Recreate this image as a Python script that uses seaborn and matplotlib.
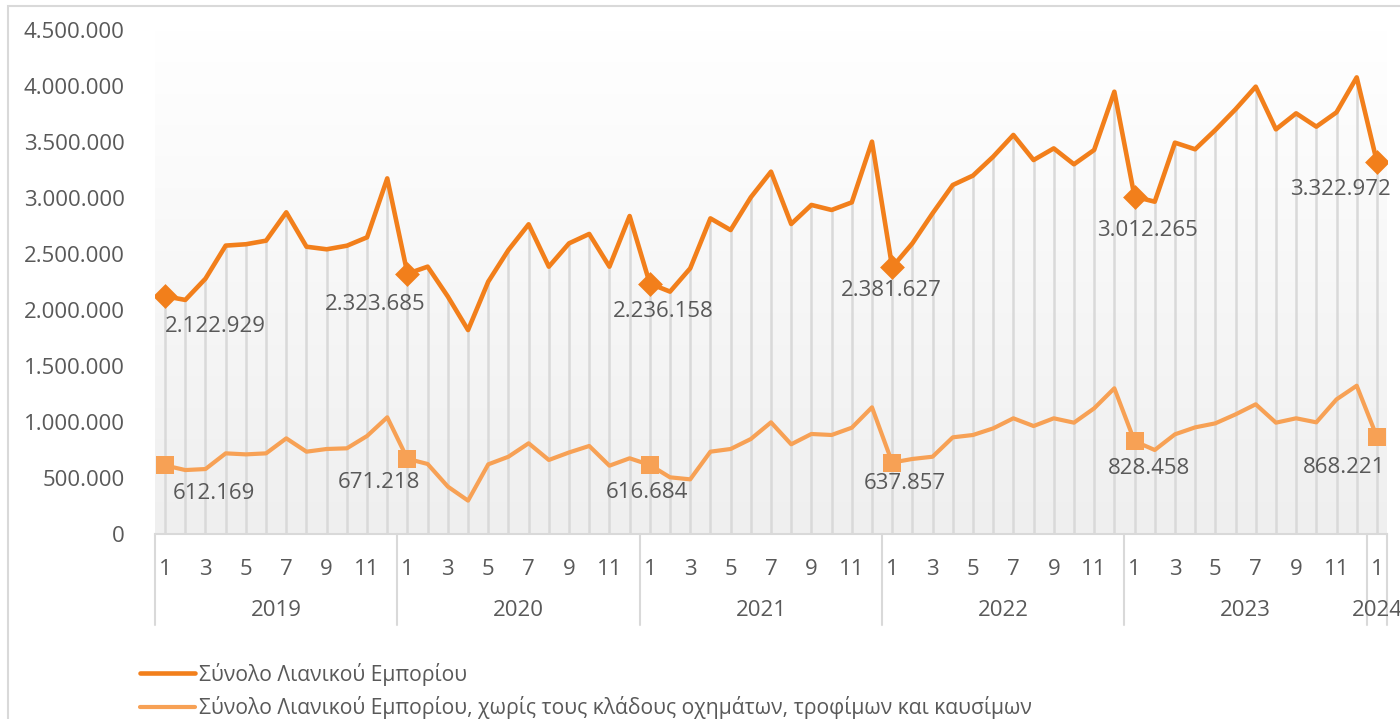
# Λιανικό εμπόριο - μηνιαίος κύκλος εργασιών 2019-2024
import numpy as np
import pandas as pd
import matplotlib
matplotlib.use("Agg")
import matplotlib.pyplot as plt
import seaborn as sns
from matplotlib.colors import LinearSegmentedColormap
from matplotlib.lines import Line2D
from matplotlib.patches import Rectangle
import matplotlib.transforms as mtransforms

# --------------------------------------------
# Data
# --------------------------------------------

years = [2019, 2020, 2021, 2022, 2023, 2024]

total_retail = [
    2122929, 2090000, 2280000, 2575000, 2587000, 2619000, 2872000, 2565000, 2542000, 2574000, 2649000, 3175000,
    2323685, 2387000, 2120000, 1821000, 2253000, 2536000, 2765000, 2387000, 2595000, 2679000, 2387000, 2839000,
    2236158, 2164000, 2372000, 2818000, 2714000, 3006000, 3235000, 2768000, 2938000, 2893000, 2961000, 3503000,
    2381627, 2595000, 2863000, 3116000, 3200000, 3369000, 3563000, 3339000, 3443000, 3301000, 3429000, 3949000,
    3012265, 2967000, 3494000, 3435000, 3607000, 3792000, 3994000, 3613000, 3756000, 3637000, 3765000, 4077000,
    3322972,
]

retail_excl = [
    612169, 571000, 580000, 720000, 711000, 720000, 854000, 735000, 759000, 765000, 875000, 1042000,
    671218, 625000, 423000, 298000, 622000, 690000, 810000, 661000, 728000, 786000, 610000, 676000,
    616684, 506000, 488000, 735000, 759000, 848000, 997000, 801000, 893000, 884000, 949000, 1131000,
    637857, 670000, 690000, 863000, 884000, 943000, 1033000, 964000, 1033000, 994000, 1122000, 1301000,
    828458, 750000, 890000, 952000, 988000, 1068000, 1158000, 994000, 1033000, 997000, 1202000, 1324000,
    868221,
]

series_names = [
    "Σύνολο Λιανικού Εμπορίου",
    "Σύνολο Λιανικού Εμπορίου, χωρίς τους κλάδους οχημάτων, τροφίμων και καυσίμων",
]

# --------------------------------------------
# Build table
# --------------------------------------------

months = [m for y in years[:-1] for m in range(1, 13)] + [1]
year_col = [y for y in years[:-1] for _ in range(12)] + [2024]
df = pd.DataFrame({
    "idx": np.arange(len(total_retail)),
    "year": year_col,
    "month": months,
    "total": total_retail,
    "excl": retail_excl,
})
jan = df[df["month"] == 1]

# --------------------------------------------
# Style
# --------------------------------------------

sns.set_style("white")
plt.rcParams["font.family"] = ["Open Sans", "DejaVu Sans"]

C_TOTAL = "#F27F1B"
C_EXCL = "#F7A155"
TXT = "#595959"
GRID = "#D9D9D9"
FS = 16

fig = plt.figure(figsize=(14, 7.19), dpi=100)
ax = fig.add_axes([155 / 1400, 1 - 534 / 719, 1232 / 1400, 504 / 719])

# outer chart frame
fig.patches.append(Rectangle((8 / 1400, -0.05), 1.2, 1 - 6 / 719 + 0.05,
                             transform=fig.transFigure, fill=False,
                             edgecolor="#D9D9D9", linewidth=1.5))

# plot area gradient
grad_cmap = LinearSegmentedColormap.from_list("g", ["#EFEFEF", "#FFFFFF"])
ax.imshow(np.linspace(0, 1, 256).reshape(-1, 1), cmap=grad_cmap, origin="lower",
          extent=[-0.5, 60.5, 0, 4.5e6], aspect="auto", zorder=0)

# drop lines
ax.vlines(df["idx"], 0, df["total"], color=GRID, linewidth=1.8, zorder=1)

# lines
sns.lineplot(data=df, x="idx", y="total", color=C_TOTAL, linewidth=3.3, ax=ax, zorder=3)
sns.lineplot(data=df, x="idx", y="excl", color=C_EXCL, linewidth=3.0, ax=ax, zorder=3)

# January markers
ax.scatter(jan["idx"], jan["total"], marker="D", s=160, color=C_TOTAL, zorder=4, linewidths=0)
ax.scatter(jan["idx"], jan["excl"], marker="s", s=180, color=C_EXCL, zorder=4, linewidths=0)

# data labels (offsets in pixels)
off_total = [(50, -30), (-32, -31), (13, -28), (-1, -23), (13, -34), (-36, -28)]
off_excl = [(49, -28), (-29, -24), (-3, -28), (13, -21), (14, -27), (-33, -31)]


def fmt(v):
    return f"{v:,.0f}".replace(",", ".")


for (i, r), o1, o2 in zip(jan.iterrows(), off_total, off_excl):
    ax.annotate(fmt(r["total"]), (r["idx"], r["total"]), xytext=o1, textcoords="offset pixels",
                ha="center", va="center", fontsize=FS, color=TXT, zorder=5)
    ax.annotate(fmt(r["excl"]), (r["idx"], r["excl"]), xytext=o2, textcoords="offset pixels",
                ha="center", va="center", fontsize=FS, color=TXT, zorder=5)

# --------------------------------------------
# Axes
# --------------------------------------------

ax.set_xlim(-0.5, 60.5)
ax.set_ylim(0, 4.5e6)
ax.set_yticks(np.arange(0, 4.5e6 + 1, 5e5))
ax.set_yticklabels([fmt(v) for v in np.arange(0, 4.5e6 + 1, 5e5)])
ax.tick_params(axis="y", length=0, pad=22, labelsize=FS, labelcolor=TXT)

tick_idx = df.loc[df["month"] % 2 == 1, "idx"]
ax.set_xticks(tick_idx)
ax.set_xticklabels(df.loc[tick_idx, "month"])
ax.tick_params(axis="x", length=0, pad=18, labelsize=FS, labelcolor=TXT)
ax.set_xlabel("")
ax.set_ylabel("")

for s in ["top", "right", "left"]:
    ax.spines[s].set_visible(False)
ax.spines["bottom"].set_color(GRID)
ax.spines["bottom"].set_linewidth(1.5)

# year groups under the axis
trans = mtransforms.blended_transform_factory(ax.transData, ax.transAxes)
bounds = [-0.5, 11.5, 23.5, 35.5, 47.5, 59.5, 60.5]
for b in bounds:
    ax.plot([b, b], [0, -0.18], transform=trans, color=GRID, linewidth=1.5, clip_on=False)
for y in years:
    centre = df.loc[df["year"] == y, "idx"].mean()
    ax.text(centre, -0.151, str(y), transform=trans, ha="center", va="center",
            fontsize=FS, color=TXT)

# --------------------------------------------
# Legend
# --------------------------------------------

handles = [Line2D([], [], color=C_TOTAL, linewidth=3.3),
           Line2D([], [], color=C_EXCL, linewidth=3.0)]
fig.legend(handles, series_names, loc="center left", bbox_to_anchor=(140 / 1400, 1 - 691 / 719),
           frameon=False, fontsize=15.2, labelcolor=TXT, handlelength=2.6, handletextpad=0.2,
           labelspacing=0.5, borderpad=0, borderaxespad=0)

fig.savefig("out.png", dpi=100)
